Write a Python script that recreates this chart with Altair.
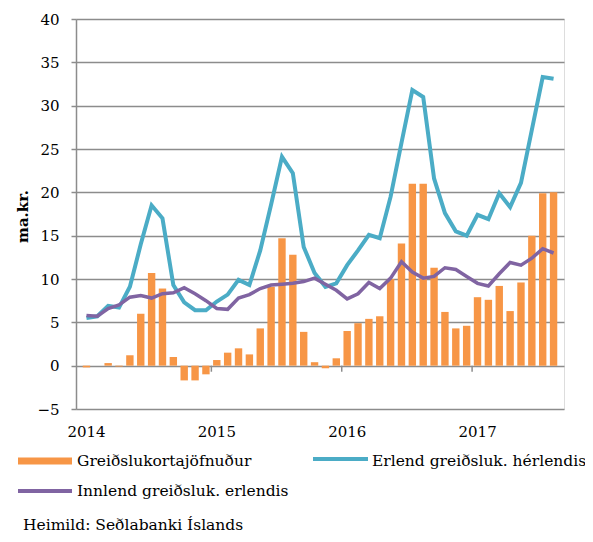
import altair as alt
import pandas as pd

# Monthly data Jan 2014 - Aug 2017 (ma.kr.)
months = pd.period_range("2014-01", "2017-08", freq="M").strftime("%Y-%m").tolist()

jofnudur = [-0.2, 0.0, 0.3, -0.1, 1.2, 6.0, 10.7, 8.9, 1.0, -1.7, -1.7, -1.0,
            0.65, 1.5, 2.0, 1.3, 4.3, 9.1, 14.7, 12.8, 3.9, 0.4, -0.3, 0.85,
            4.0, 4.9, 5.4, 5.7, 10.0, 14.1, 21.0, 21.0, 11.3, 6.2, 4.3, 4.6,
            7.9, 7.6, 9.2, 6.3, 9.6, 15.0, 19.9, 20.0]

erlend = [5.5, 5.7, 6.9, 6.7, 9.1, 14.0, 18.5, 17.0, 9.3, 7.3, 6.4, 6.4,
          7.4, 8.2, 9.9, 9.3, 13.3, 18.6, 24.1, 22.2, 13.7, 10.7, 9.1, 9.5,
          11.6, 13.3, 15.1, 14.7, 19.5, 25.7, 31.8, 31.0, 21.6, 17.6, 15.5, 15.0,
          17.4, 16.9, 19.9, 18.3, 21.1, 27.2, 33.3, 33.1]

innlend = [5.8, 5.7, 6.6, 7.0, 7.9, 8.1, 7.8, 8.3, 8.4, 9.0, 8.3, 7.5,
           6.6, 6.5, 7.8, 8.2, 8.9, 9.3, 9.4, 9.5, 9.7, 10.1, 9.4, 8.7,
           7.7, 8.3, 9.6, 8.9, 10.1, 12.0, 10.8, 10.1, 10.3, 11.3, 11.1, 10.3,
           9.5, 9.2, 10.6, 11.9, 11.6, 12.4, 13.5, 13.0]

year_labels = ["2014", "2015", "2016", "2017"]
series_names = ["Greiðslukortajöfnuður", "Erlend greiðsluk. hérlendis", "Innlend greiðsluk. erlendis"]
source_text = "Heimild: Seðlabanki Íslands"
y_title = "ma.kr."

ORANGE = "#F79646"
BLUE = "#4BACC6"
PURPLE = "#8064A2"
GRID = "#8C8C8C"
FONT = "DejaVu Serif"
FS = 15
LFS = 15.5

df = pd.DataFrame({
    "month": months,
    "t": [i + 0.5 for i in range(len(months))],
    "jofnudur": jofnudur,
    "erlend": erlend,
    "innlend": innlend,
})
tick_df = pd.DataFrame({"t": [12, 24, 36], "y0": [0.0] * 3, "y1": [-0.7] * 3})

x_scale = alt.Scale(domain=[0, len(months)], zero=False, nice=False)
y_scale = alt.Scale(domain=[-5, 40], nice=False)

x_axis = alt.Axis(
    values=[0, 12, 24, 36],
    labelExpr="2014 + datum.value / 12",
    title=None, grid=False, ticks=False, domain=False,
    labelFont=FONT, labelFontSize=FS, labelColor="#000000",
    labelPadding=15, labelOffset=5, labelFlush=False, labelOverlap=False,
)
y_axis = alt.Axis(
    values=list(range(-5, 41, 5)),
    title=y_title, titleFont=FONT, titleFontSize=FS, titleFontWeight="bold",
    titleColor="#000000", titleAngle=-90, titleX=-49, titleY=197,
    titleAlign="center", titleBaseline="alphabetic",
    labelFont=FONT, labelFontSize=FS, labelColor="#000000", labelPadding=12,
    tickSize=5, tickColor=GRID, tickWidth=1.5,
    domainColor=GRID, domainWidth=1.5,
    grid=True, gridColor=GRID, gridWidth=1.5,
)

base = alt.Chart(df)

bars = base.mark_bar(width=7.4, color=ORANGE).encode(
    x=alt.X("t:Q", scale=x_scale, axis=x_axis),
    y=alt.Y("jofnudur:Q", scale=y_scale, axis=y_axis),
)

year_ticks = alt.Chart(tick_df).mark_rule(color=GRID, strokeWidth=1.5).encode(
    x=alt.X("t:Q", scale=x_scale),
    y=alt.Y("y0:Q", scale=y_scale),
    y2="y1:Q",
)

line_blue = base.mark_line(color=BLUE, strokeWidth=4, strokeJoin="miter").encode(
    x=alt.X("t:Q", scale=x_scale),
    y=alt.Y("erlend:Q", scale=y_scale),
)
line_purple = base.mark_line(color=PURPLE, strokeWidth=3.5, strokeJoin="miter").encode(
    x=alt.X("t:Q", scale=x_scale),
    y=alt.Y("innlend:Q", scale=y_scale),
)

# Custom legend (drawn in pixel space, below the plot area)
leg_df = pd.DataFrame({"dummy": [0]})
legend_parts = []
sym_specs = [
    (ORANGE, 7, -58, -4, 442),
    (BLUE, 4, 237, 292, 440),
    (PURPLE, 4, -58, -4, 472),
]
for color, w, x1, x2, yy in sym_specs:
    legend_parts.append(
        alt.Chart(leg_df).mark_rule(color=color, strokeWidth=w, strokeCap="butt").encode(
            x=alt.value(x1), x2=alt.value(x2), y=alt.value(yy)
        )
    )
text_specs = [
    (series_names[0], 1, 447),
    (series_names[1], 296, 447),
    (series_names[2], 1, 477),
    (source_text, -53, 511),
]
for txt, xx, yy in text_specs:
    legend_parts.append(
        alt.Chart(leg_df).mark_text(
            text=txt, font=FONT, fontSize=LFS, color="#000000",
            align="left", baseline="alphabetic",
        ).encode(x=alt.value(xx), y=alt.value(yy))
    )

chart = alt.layer(bars, year_ticks, line_blue, line_purple, *legend_parts).properties(
    width=488, height=390,
    autosize=alt.AutoSizeParams(type="none"),
    padding={"left": 68, "top": 11, "right": 21, "bottom": 125},
).configure_view(stroke=None).configure(background="#ffffff", font=FONT).configure_text(font=FONT)

chart.save("out.html", embed_options={"renderer": "svg", "actions": False})
